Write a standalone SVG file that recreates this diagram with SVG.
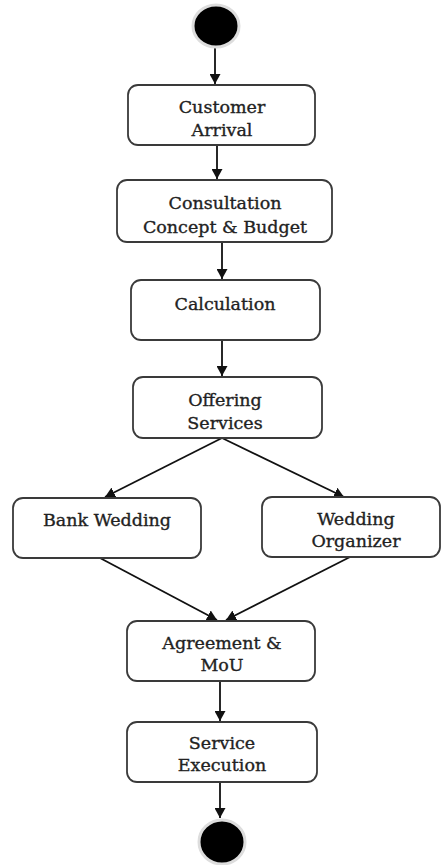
<svg xmlns="http://www.w3.org/2000/svg" width="442" height="865" viewBox="0 0 442 865">
<style>
.box{fill:#fff;stroke:#3a3a3a;stroke-width:1.8}
.t{font-family:"DejaVu Serif","Liberation Serif",serif;font-size:17.5px;fill:#222;stroke:#222;stroke-width:0.35;text-anchor:middle}
.c{stroke:#111;stroke-width:1.8;fill:none}
.dot{fill:#000;stroke:#ddd;stroke-width:3}
</style>
<defs>
<marker id="ah" markerWidth="10" markerHeight="11" refX="10" refY="5.5" orient="auto" markerUnits="userSpaceOnUse">
<path d="M0,0 L10,5.5 L0,11 Z" fill="#111"/>
</marker>
</defs>
<rect width="442" height="865" fill="#fff"/>
<g id="connectors">
<line class="c" x1="215" y1="47" x2="215" y2="84" marker-end="url(#ah)"/>
<line class="c" x1="217" y1="145" x2="217" y2="179" marker-end="url(#ah)"/>
<line class="c" x1="222" y1="242" x2="222" y2="279" marker-end="url(#ah)"/>
<line class="c" x1="222" y1="340" x2="222" y2="376" marker-end="url(#ah)"/>
<line class="c" x1="222" y1="438" x2="105" y2="497" marker-end="url(#ah)"/>
<line class="c" x1="222" y1="438" x2="344" y2="497" marker-end="url(#ah)"/>
<line class="c" x1="100" y1="558" x2="217" y2="620" marker-end="url(#ah)"/>
<line class="c" x1="350" y1="557" x2="226" y2="620" marker-end="url(#ah)"/>
<line class="c" x1="220" y1="681" x2="220" y2="721" marker-end="url(#ah)"/>
<line class="c" x1="220" y1="782" x2="220" y2="818" marker-end="url(#ah)"/>
</g>
<g id="start"><ellipse class="dot" cx="216" cy="26" rx="23" ry="21"/></g>
<g id="customer-arrival">
<rect class="box" x="128" y="85" width="187" height="60" rx="10"/>
<text class="t" x="222" y="113">Customer</text>
<text class="t" x="222" y="136">Arrival</text>
</g>
<g id="consultation">
<rect class="box" x="117" y="180" width="215" height="62" rx="10"/>
<text class="t" x="225" y="209">Consultation</text>
<text class="t" x="225" y="233">Concept &amp; Budget</text>
</g>
<g id="calculation">
<rect class="box" x="131" y="280" width="189" height="60" rx="10"/>
<text class="t" x="225" y="310">Calculation</text>
</g>
<g id="offering-services">
<rect class="box" x="133" y="377" width="189" height="61" rx="10"/>
<text class="t" x="225" y="406">Offering</text>
<text class="t" x="225" y="429">Services</text>
</g>
<g id="bank-wedding">
<rect class="box" x="13" y="498" width="188" height="60" rx="10"/>
<text class="t" x="107" y="526">Bank Wedding</text>
</g>
<g id="wedding-organizer">
<rect class="box" x="262" y="497" width="178" height="60" rx="10"/>
<text class="t" x="356" y="525">Wedding</text>
<text class="t" x="356" y="547">Organizer</text>
</g>
<g id="agreement">
<rect class="box" x="127" y="621" width="188" height="60" rx="10"/>
<text class="t" x="222" y="649">Agreement &amp;</text>
<text class="t" x="222" y="671">MoU</text>
</g>
<g id="service-execution">
<rect class="box" x="127" y="722" width="190" height="60" rx="10"/>
<text class="t" x="222" y="749">Service</text>
<text class="t" x="222" y="771">Execution</text>
</g>
<g id="end"><ellipse class="dot" cx="222" cy="842" rx="23" ry="22"/></g>
</svg>
